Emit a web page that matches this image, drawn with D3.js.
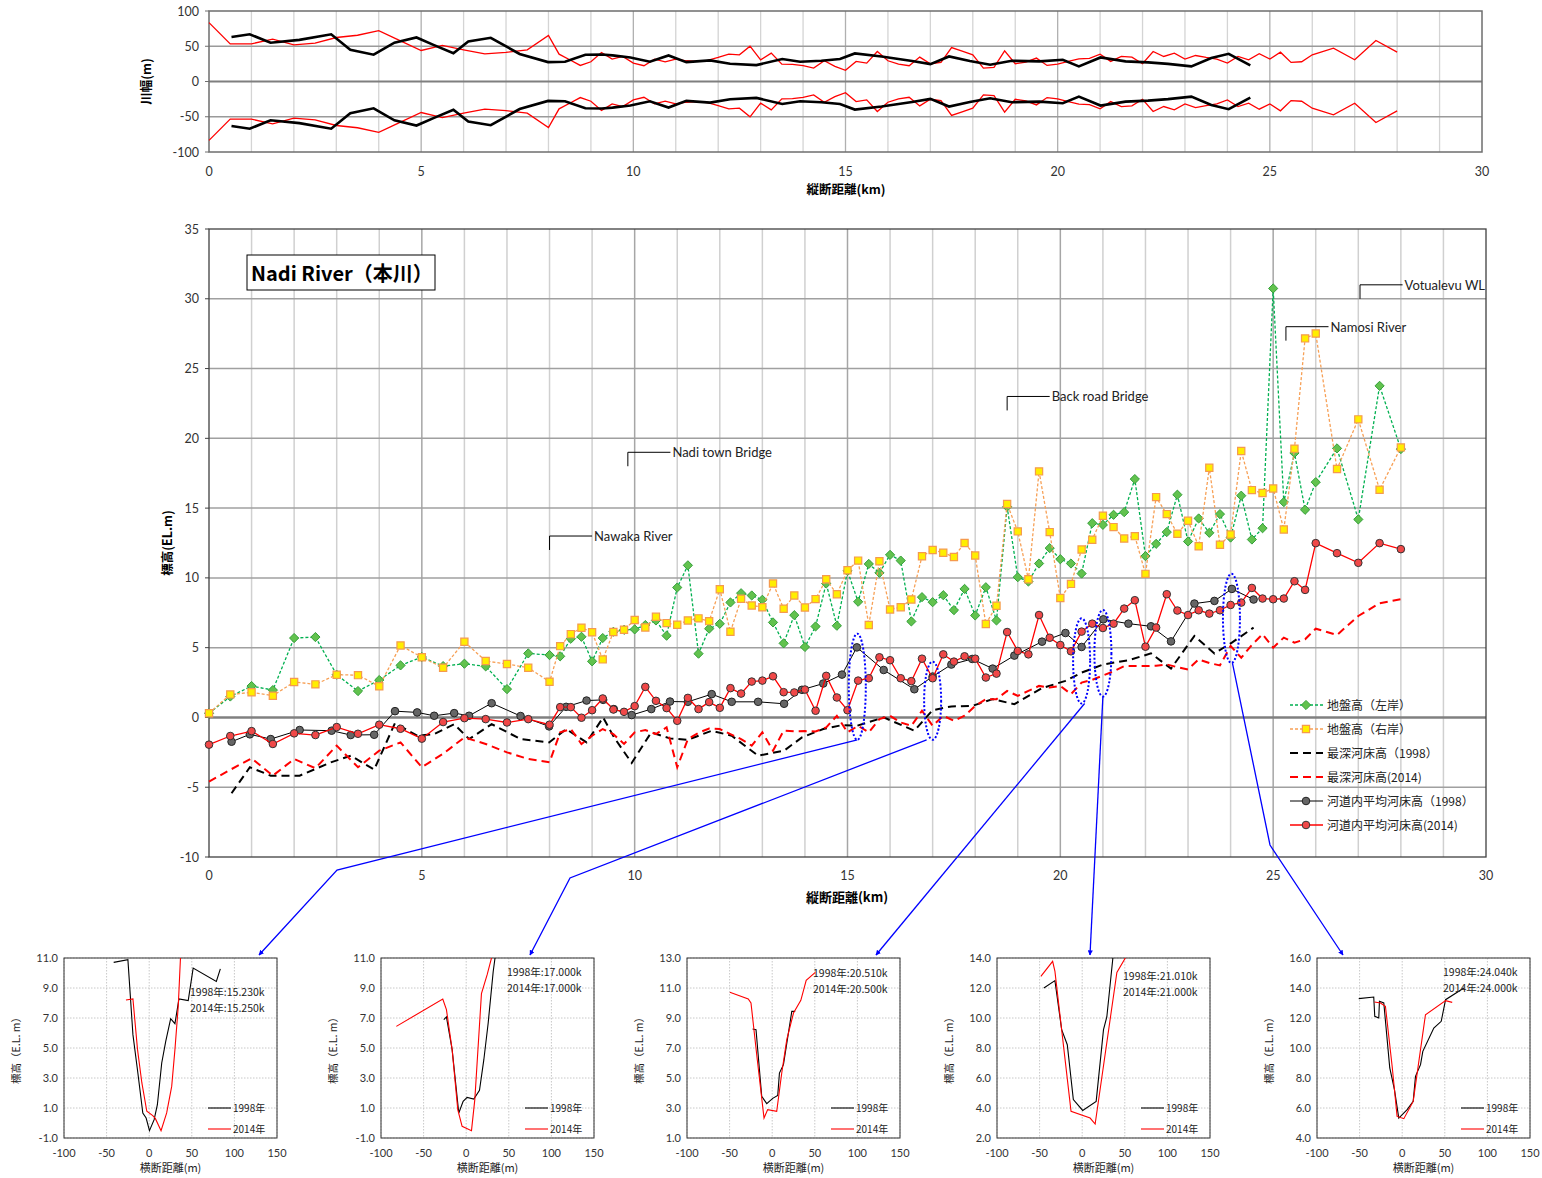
<!DOCTYPE html>
<html><head><meta charset="utf-8">
<script src="https://cdn.jsdelivr.net/npm/d3@7"></script>
<style>body{margin:0;background:#fff}svg{display:block}</style>
</head><body>
<svg id="c" width="1542" height="1178"></svg>
<script>
// ---------------- data ----------------
// 2014 survey stations (km) and the values measured at them
const km2014 = [0,0.5,1,1.5,2,2.5,3,3.5,4,4.5,5,5.5,6,6.5,7,7.5,8,
  8.25,8.5,8.75,9,9.25,9.5,9.75,10,10.25,10.5,10.75,11,11.25,11.5,11.75,12,12.25,12.5,12.75,13,
  13.25,13.5,13.75,14,14.25,14.5,14.75,15,15.25,15.5,15.75,16,16.25,16.5,16.75,17,17.25,17.5,17.75,18,
  18.25,18.5,18.75,19,19.25,19.5,19.75,20,20.25,20.5,20.75,21,21.25,21.5,21.75,22,22.25,22.5,22.75,23,
  23.25,23.5,23.75,24,24.25,24.5,24.75,25,25.25,25.5,25.75,26,26.5,27,27.5,28];
const groundLeft = [0.3,1.5,2.25,1.96,5.69,5.76,3.06,1.89,2.68,3.73,4.33,3.68,3.85,3.66,2.03,4.59,4.47,
  4.38,5.64,5.78,4.02,5.69,6.14,6.28,6.31,6.62,6.95,5.86,9.31,10.9,4.57,6.36,6.71,8.24,8.9,8.74,8.43,
  6.81,5.31,7.33,5.05,6.52,9.6,6.57,10.5,8.29,11.0,10.36,11.65,11.24,6.88,8.62,8.26,8.76,7.69,9.21,7.31,
  9.33,6.95,15.1,10.05,9.74,11.03,12.13,11.34,11.03,10.31,13.92,13.8,14.52,14.71,17.08,11.56,12.44,13.28,15.96,12.61,
  14.26,13.23,14.57,12.89,15.89,12.75,13.56,30.74,15.43,18.95,14.88,16.86,19.28,14.19,23.76,19.23];
const groundRight = [0.3,1.65,1.8,1.56,2.54,2.37,3.06,3.03,2.23,5.16,4.31,3.56,5.42,4.04,3.83,3.56,2.56,
  5.11,5.97,6.43,6.1,4.16,6.12,6.28,6.98,6.45,7.21,6.76,6.64,6.95,7.1,6.9,9.19,6.14,8.5,8.02,7.9,
  9.6,7.79,8.74,7.88,8.48,9.9,8.83,10.55,11.24,6.62,11.19,7.74,7.9,8.45,11.55,12.0,11.8,11.5,12.5,11.6,
  6.7,8.0,15.29,13.33,9.9,17.63,13.28,8.56,9.57,12.03,12.73,14.45,13.64,12.82,12.99,10.29,15.79,14.57,13.16,14.09,
  12.27,17.89,12.37,13.11,19.09,16.29,16.08,16.41,13.47,19.26,27.16,27.51,17.8,21.36,16.32,19.35];
const deepest2014 = [-4.6,-3.75,-2.93,-4.17,-2.98,-3.64,-2.02,-3.57,-2.38,-1.79,-3.57,-2.6,-1.43,-1.9,-2.5,-2.98,-3.21,
  -1.07,-0.83,-1.9,-1.31,-0.83,-1.2,-1.9,-1.07,-0.9,-1.19,-0.71,-3.57,-1.55,-1.1,-0.79,-0.83,-1.2,-1.55,-2.02,-1.07,
  -2.38,-0.95,-1.0,-0.98,-1.0,-0.71,0.12,-1.07,-0.6,-1.07,-0.12,0.12,-0.36,-0.6,0.48,-0.6,0.12,-0.24,0.12,0.83,
  1.31,1.31,1.9,1.55,1.9,2.26,2.14,2.26,1.67,2.5,2.7,3.0,3.3,3.68,3.68,3.68,3.7,3.8,3.6,3.44,
  4.16,3.9,3.73,5.12,4.28,5.2,5.96,5.0,5.72,5.36,5.6,6.36,5.91,7.27,8.18,8.47];
const meanBed2014 = [-1.95,-1.33,-0.98,-1.9,-1.14,-1.26,-0.69,-1.17,-0.52,-0.81,-1.52,-0.33,-0.05,-0.12,-0.36,-0.12,-0.52,
  0.74,0.74,-0.02,0.52,1.36,0.57,0.4,0.81,2.19,1.19,0.67,-0.24,1.4,0.6,1.1,0.69,2.1,1.71,2.57,2.64,
  2.95,1.81,1.79,2.0,0.48,2.98,1.43,0.52,2.64,2.81,4.31,4.1,2.81,2.6,4.21,2.81,4.52,4.0,4.38,4.21,
  2.86,3.14,6.12,4.76,4.52,7.34,5.71,5.19,4.74,6.15,6.72,6.41,6.72,7.8,8.4,5.07,6.44,8.83,7.66,7.34,
  7.68,7.44,7.68,8.06,8.23,9.28,8.52,8.47,8.52,9.76,9.14,12.49,11.77,11.08,12.49,12.06];
const halfWidth2014 = [83.5,53.4,53.4,60,52,54.4,62.4,65.6,72.2,58.1,44,51.1,44.9,39.3,41.2,44.9,65.2,
  38.8,30.8,22.8,28,41.2,31.8,35.5,26.1,22.4,31.8,28,31.8,29.4,28.5,30,34.1,38.8,37.9,50.1,30.8,
  40.2,24.7,24.2,22.4,19.1,29.4,21.4,15.8,28.5,26.1,42.6,29.4,24.7,22.4,34.6,25.2,27.1,48.2,43,37.9,
  19.1,20,43.5,25.2,27.5,33.2,22.8,24.7,28.5,32.2,32.7,38.8,28.5,35.5,34.6,25.2,42.6,35.5,40.2,31.8,
  36.9,34.1,31.8,26.1,35.5,30.8,39.3,31.8,41.6,27.1,28,37.9,47.3,30.8,58.1,41.6];

// 1998 survey stations (km) and the values measured at them
const km1998 = [0.53,0.96,1.45,2.13,2.88,3.33,3.88,4.37,4.89,5.29,5.76,6.11,6.64,7.32,7.99,8.39,8.87,9.26,9.51,9.93,
  10.39,10.83,11.25,11.81,12.28,12.9,13.51,13.93,14.43,14.87,15.22,15.85,16.57,17.0,17.44,17.93,18.41,18.92,19.57,20.12,
  20.5,21.01,21.6,22.13,22.6,23.15,23.62,24.03,24.54];
const meanBed1998 = [-1.74,-1.21,-1.55,-0.9,-0.95,-1.26,-1.24,0.45,0.36,0.12,0.31,0.12,1.02,0.1,-0.64,0.76,1.21,1.26,0.6,0.17,
  0.6,1.14,1.12,1.67,1.12,1.12,0.98,1.98,2.43,3.07,5.02,3.4,2.02,2.93,3.79,4.19,3.5,4.43,5.43,6.05,
  5.05,7.03,6.72,6.53,5.45,8.16,8.35,9.21,8.45];
const deepest1998 = [-5.43,-3.57,-4.17,-4.17,-3.2,-2.74,-3.74,-0.4,-1.31,-1.19,-0.48,-1.55,-0.48,-1.55,-1.79,-0.83,-1.79,0.0,-1.4,-3.26,
  -1.07,-1.5,-1.6,-0.95,-1.31,-2.74,-2.38,-1.43,-0.83,-0.55,-0.6,0.0,-0.95,0.52,0.79,0.83,1.31,0.95,2.1,2.62,
  3.21,3.8,4.1,4.59,3.5,5.84,4.59,5.36,6.44];
const halfWidth1998 = [63,67,55,59,67,45,38,55,62.5,52,40,56.7,62,39,27.5,28,38,38.4,37,34,
  28,37,27.5,29.9,25.2,23.3,31.8,28,29.5,32,39.8,35.5,29,24.7,35.5,29,23.8,29.4,28.5,30.8,
  21.4,34.1,28.5,27.1,25,21.4,33.2,39.3,22.8];

// landmarks along the river
const landmarkKm = [8.0, 9.84, 18.75, 25.3, 27.04];
const landmarkLevel = [12, 18, 22, 27, 30];
const landmarkNames = ['Nawaka River', 'Nadi town Bridge', 'Back road Bridge', 'Namosi River', 'Votualevu WL'];

// cross sections: [transverse distance (m), elevation (EL.m)]
const sec15_1998 = [[-41.7,10.71],[-25,10.89],[-19.1,5.89],[-13.3,3.33],[-7.5,0.67],[-3.6,0.33],[0.3,-0.51],[5.8,0.22],[9.6,1.22],[14.7,4.0],[19.4,5.44],[25.2,6.96],[30.2,6.62],[34.9,8.27],[45.8,8.16],[51.6,10.33],[78.8,9.44],[83.5,10.27]];
const sec15_2014 = [[-27.3,8.2],[-19.1,8.27],[-13.7,4.89],[-8.6,2.67],[-2.8,0.78],[4.2,0.49],[7.3,0.29],[13.9,-0.51],[20.5,0.67],[26.4,2.44],[30.2,4.89],[34.1,7.78],[37.5,12.0]];
const sec17_1998 = [[-26.3,6.89],[-23.2,7.07],[-16.5,4.89],[-8.7,0.67],[-3.6,1.44],[1.1,1.71],[8.9,1.6],[15.6,2.18],[20.7,4.22],[25.8,6.67],[31.7,10.1],[35,11.5]];
const sec17_2014 = [[-82,6.44],[-27.5,8.27],[-23.2,7.56],[-16.5,4.89],[-9.9,0.89],[-4.8,-0.22],[6.2,-0.51],[10.1,1.56],[17.9,8.62],[24.6,9.89],[32,11.5]];
const sec205_1998 = [[-23,8.27],[-19,8.22],[-12.3,3.78],[-6.4,3.29],[0.6,3.64],[6.5,3.84],[8.5,5.33],[13.2,5.89],[23,9.44],[27,9.44]];
const sec205_2014 = [[-49.7,10.71],[-28.1,10.27],[-24.9,10.0],[-17.5,6.22],[-9.6,2.33],[-5.3,2.89],[5.3,2.78],[11.2,5.33],[17.1,7.56],[25,9.33],[33.6,10.18],[39.9,11.51],[50.6,12.04]];
const sec21_1998 = [[-45,12.0],[-32,12.49],[-24.1,9.22],[-17.5,8.22],[-10.4,4.56],[0.6,3.84],[16.4,4.44],[25,9.22],[28.9,10.07],[36,14.0],[37,14.5]];
const sec21_2014 = [[-48.5,12.78],[-34.7,13.78],[-32,13.11],[-13.1,3.78],[9.3,3.33],[15.2,2.93],[40.7,13.04],[50.6,14.0],[52,14.2]];
const sec24_1998 = [[-51,13.29],[-33.4,13.4],[-32.2,12.11],[-27.5,12.0],[-26.7,13.11],[-21.6,13.0],[-14.6,8.67],[-9.1,7.22],[-4.0,5.33],[5.8,5.89],[12.9,6.44],[15.6,8.11],[21.5,8.89],[24.2,9.78],[37.1,11.33],[45.8,11.78],[50.9,13.22],[72.4,14.0]];
const sec24_2014 = [[-32.6,13.07],[-25.5,13.0],[-19.7,12.78],[-11.8,8.78],[-6.0,5.44],[1.9,5.29],[12.9,6.44],[27.3,12.22],[50.9,13.16],[58.7,13.04]];

const secKm = [15.23, 17.0, 20.5, 21.0, 24.02];
const secLow = [-1, -1, 1, 2, 4];
const secLabels = [['1998年:15.230k','2014年:15.250k'],['1998年:17.000k','2014年:17.000k'],['1998年:20.510k','2014年:20.500k'],['1998年:21.010k','2014年:21.000k'],['1998年:24.040k','2014年:24.000k']];
// elevation band circled on the longitudinal profile for each section
const secBandTop = [6.0, 4.0, 7.1, 7.7, 10.3];
const secBandBottom = [-1.6, -1.6, 1.0, 1.5, 3.9];

// ---------------- drawing ----------------
const svg = d3.select('#c');
const LAT = 'Lato, "Open Sans", sans-serif';
const JP = '"Noto Sans CJK JP", sans-serif';
svg.append('rect').attr('width',1542).attr('height',1178).attr('fill','#fff');

const zip = (xs, ys) => xs.map((x,i)=>[x, ys[i]]);

// ---------- river width chart ----------
const xT = d3.scaleLinear().domain([0,30]).range([209,1482]);
const yT = d3.scaleLinear().domain([-100,100]).range([152,11]);
const gT = svg.append('g');
d3.range(1,30).forEach(k => gT.append('line')
  .attr('x1',xT(k)).attr('x2',xT(k)).attr('y1',yT(100)).attr('y2',yT(-100))
  .attr('stroke', k%5===0 ? '#b0b0b0' : '#d4d4d4').attr('stroke-width',1.3));
[50,-50].forEach(v => gT.append('line').attr('x1',xT(0)).attr('x2',xT(30)).attr('y1',yT(v)).attr('y2',yT(v))
  .attr('stroke','#9a9a9a').attr('stroke-width',1.3));
gT.append('line').attr('x1',xT(0)).attr('x2',xT(30)).attr('y1',yT(0)).attr('y2',yT(0))
  .attr('stroke','#7f7f7f').attr('stroke-width',2.2);
gT.append('rect').attr('x',xT(0)).attr('y',yT(100)).attr('width',xT(30)-xT(0)).attr('height',yT(-100)-yT(100))
  .attr('fill','none').attr('stroke','#6e6e6e').attr('stroke-width',1.5);
[100,50,0,-50,-100].forEach(v => {
  gT.append('line').attr('x1',xT(0)-4).attr('x2',xT(0)).attr('y1',yT(v)).attr('y2',yT(v)).attr('stroke','#6e6e6e');
  gT.append('text').attr('x',xT(0)-10).attr('y',yT(v)+4.5).attr('text-anchor','end')
    .attr('font-family',LAT).attr('font-size',12.5).attr('fill','#333').text(v);
});
d3.range(0,31,5).forEach(k => gT.append('text').attr('x',xT(k)).attr('y',176).attr('text-anchor','middle')
  .attr('font-family',LAT).attr('font-size',12.5).attr('fill','#333').text(k));
gT.append('text').attr('x',846).attr('y',194).attr('text-anchor','middle').attr('font-family',JP)
  .attr('font-weight',700).attr('font-size',12.5).text('縦断距離(km)');
gT.append('text').attr('transform',`translate(151,${yT(0)}) rotate(-90)`).attr('text-anchor','middle')
  .attr('font-family',JP).attr('font-weight',700).attr('font-size',12.5).text('川幅(m)');

const lineT = d3.line().x(d=>xT(d[0])).y(d=>yT(d[1]));
[1,-1].forEach(s => gT.append('path').attr('d', lineT(zip(km2014, halfWidth2014.map(v=>s*v))))
  .attr('fill','none').attr('stroke','#ff0000').attr('stroke-width',1.3));
[1,-1].forEach(s => gT.append('path').attr('d', lineT(zip(km1998, halfWidth1998.map(v=>s*v))))
  .attr('fill','none').attr('stroke','#000').attr('stroke-width',2.6));

// ---------- longitudinal profile ----------
const x = d3.scaleLinear().domain([0,30]).range([209,1486]);
const y = d3.scaleLinear().domain([-10,35]).range([857,229]);
const g = svg.append('g');
d3.range(1,30).forEach(k => g.append('line')
  .attr('x1',x(k)).attr('x2',x(k)).attr('y1',y(35)).attr('y2',y(-10))
  .attr('stroke', k%5===0 ? '#a6a6a6' : '#d0d0d0').attr('stroke-width',1.5));
d3.range(-5,35,5).filter(v=>v!==0).forEach(v => g.append('line')
  .attr('x1',x(0)).attr('x2',x(30)).attr('y1',y(v)).attr('y2',y(v))
  .attr('stroke','#a0a0a0').attr('stroke-width',1.5));
g.append('line').attr('x1',x(0)).attr('x2',x(30)).attr('y1',y(0)).attr('y2',y(0))
  .attr('stroke','#808080').attr('stroke-width',2.6);
g.append('rect').attr('x',x(0)).attr('y',y(35)).attr('width',x(30)-x(0)).attr('height',y(-10)-y(35))
  .attr('fill','none').attr('stroke','#404040').attr('stroke-width',1.3);
d3.range(-10,36,5).forEach(v => {
  g.append('line').attr('x1',x(0)-4).attr('x2',x(0)).attr('y1',y(v)).attr('y2',y(v)).attr('stroke','#404040');
  g.append('text').attr('x',x(0)-10).attr('y',y(v)+4.5).attr('text-anchor','end')
    .attr('font-family',LAT).attr('font-size',12.5).attr('fill','#333').text(v);
});
d3.range(0,31,5).forEach(k => g.append('text').attr('x',x(k)).attr('y',880).attr('text-anchor','middle')
  .attr('font-family',LAT).attr('font-size',12.5).attr('fill','#333').text(k));
g.append('text').attr('x',847).attr('y',902).attr('text-anchor','middle').attr('font-family',JP)
  .attr('font-weight',700).attr('font-size',13).text('縦断距離(km)');
g.append('text').attr('transform',`translate(172,${(y(35)+y(-10))/2}) rotate(-90)`).attr('text-anchor','middle')
  .attr('font-family',JP).attr('font-weight',700).attr('font-size',12.5).text('標高(EL.m)');

// title box
g.append('rect').attr('x',247).attr('y',255).attr('width',188).attr('height',35)
  .attr('fill','#fff').attr('stroke','#000').attr('stroke-width',1);
g.append('text').attr('x',251).attr('y',281).attr('font-family',JP).attr('font-weight',700)
  .attr('font-size',20).text('Nadi River（本川）');

// landmarks
landmarkKm.forEach((k,i) => {
  const lv = landmarkLevel[i];
  g.append('path').attr('d', `M${x(k)},${y(lv)}V${y(lv+1)}H${x(k+1)}`)
    .attr('fill','none').attr('stroke','#000').attr('stroke-width',1);
  g.append('text').attr('x',x(k+1)+2).attr('y',y(lv+1)+5).attr('font-family',LAT)
    .attr('font-size',13).attr('fill','#222').text(landmarkNames[i]);
});

const line = d3.line().x(d=>x(d[0])).y(d=>y(d[1]));
const diamond = 'M0,-4.6L4.6,0L0,4.6L-4.6,0Z';
const square = d3.symbol(d3.symbolSquare, 52)();

// 地盤高（左岸）
const pL = zip(km2014, groundLeft);
g.append('path').attr('d', line(pL)).attr('fill','none').attr('stroke','#00b050')
  .attr('stroke-width',1.3).attr('stroke-dasharray','3,2');
g.selectAll('.dl').data(pL).join('path').attr('d',diamond)
  .attr('transform',d=>`translate(${x(d[0])},${y(d[1])})`)
  .attr('fill','#62c24e').attr('stroke','#34a03a').attr('stroke-width',1);
// 地盤高（右岸）
const pR = zip(km2014, groundRight);
g.append('path').attr('d', line(pR)).attr('fill','none').attr('stroke','#f7a056')
  .attr('stroke-width',1.3).attr('stroke-dasharray','3,2');
g.selectAll('.sr').data(pR).join('path').attr('d',square)
  .attr('transform',d=>`translate(${x(d[0])},${y(d[1])})`)
  .attr('fill','#ffee00').attr('stroke','#f59a4e').attr('stroke-width',1.2);
// 最深河床高
g.append('path').attr('d', line(zip(km1998, deepest1998))).attr('fill','none').attr('stroke','#000')
  .attr('stroke-width',2).attr('stroke-dasharray','8,5');
g.append('path').attr('d', line(zip(km2014, deepest2014))).attr('fill','none').attr('stroke','#ff0000')
  .attr('stroke-width',2).attr('stroke-dasharray','8,5');
// 河道内平均河床高
const m98 = zip(km1998, meanBed1998);
g.append('path').attr('d', line(m98)).attr('fill','none').attr('stroke','#000').attr('stroke-width',1);
g.selectAll('.c98').data(m98).join('circle').attr('cx',d=>x(d[0])).attr('cy',d=>y(d[1])).attr('r',3.8)
  .attr('fill','#666').attr('stroke','#222').attr('stroke-width',1);
const m14 = zip(km2014, meanBed2014);
g.append('path').attr('d', line(m14)).attr('fill','none').attr('stroke','#ff0000').attr('stroke-width',1.3);
g.selectAll('.c14').data(m14).join('circle').attr('cx',d=>x(d[0])).attr('cy',d=>y(d[1])).attr('r',3.8)
  .attr('fill','#f04848').attr('stroke','#333').attr('stroke-width',1);

// legend
const legendItems = [
  {t:'地盤高（左岸）', stroke:'#00b050', dash:'3,2', w:1.3, mk:'d'},
  {t:'地盤高（右岸）', stroke:'#f7a056', dash:'3,2', w:1.3, mk:'s'},
  {t:'最深河床高（1998）', stroke:'#000', dash:'8,5', w:2},
  {t:'最深河床高(2014)', stroke:'#ff0000', dash:'8,5', w:2},
  {t:'河道内平均河床高（1998）', stroke:'#000', w:1, mk:'c98'},
  {t:'河道内平均河床高(2014)', stroke:'#ff0000', w:1.3, mk:'c14'}
];
legendItems.forEach((it,i) => {
  const ly = 705 + i*24;
  g.append('line').attr('x1',1290).attr('x2',1323).attr('y1',ly).attr('y2',ly)
    .attr('stroke',it.stroke).attr('stroke-width',it.w).attr('stroke-dasharray',it.dash||null);
  if (it.mk==='d') g.append('path').attr('d',diamond).attr('transform',`translate(1306,${ly})`)
    .attr('fill','#62c24e').attr('stroke','#34a03a');
  if (it.mk==='s') g.append('path').attr('d',square).attr('transform',`translate(1306,${ly})`)
    .attr('fill','#ffee00').attr('stroke','#f59a4e').attr('stroke-width',1.2);
  if (it.mk==='c98') g.append('circle').attr('cx',1306).attr('cy',ly).attr('r',3.8).attr('fill','#666').attr('stroke','#222');
  if (it.mk==='c14') g.append('circle').attr('cx',1306).attr('cy',ly).attr('r',3.8).attr('fill','#f04848').attr('stroke','#333');
  g.append('text').attr('x',1327).attr('y',ly+4.5).attr('font-family',JP).attr('font-size',12)
    .attr('fill','#222').text(it.t);
});

// ---------- cross sections ----------
const panelLeft = [64, 381, 687, 997, 1317];
const panelW = 213, panelTop = 958, panelBottom = 1138;
const labelTop = [992, 972, 973, 976, 972];
const sections = [[sec15_1998,sec15_2014],[sec17_1998,sec17_2014],[sec205_1998,sec205_2014],[sec21_1998,sec21_2014],[sec24_1998,sec24_2014]];
const defs = svg.append('defs');
sections.forEach((pair,i) => {
  const L = panelLeft[i];
  const px = d3.scaleLinear().domain([-100,150]).range([L, L+panelW]);
  const py = d3.scaleLinear().domain([secLow[i], secLow[i]+12]).range([panelBottom, panelTop]);
  const pg = svg.append('g');
  const ticksY = d3.range(secLow[i], secLow[i]+12.01, 2);
  ticksY.forEach(v => {
    pg.append('line').attr('x1',L).attr('x2',L+panelW).attr('y1',py(v)).attr('y2',py(v))
      .attr('stroke','#c8c8c8').attr('stroke-dasharray','1.5,1.5');
    pg.append('text').attr('x',L-6).attr('y',py(v)+4).attr('text-anchor','end')
      .attr('font-family',LAT).attr('font-size',11).attr('fill','#333').text(v.toFixed(1));
  });
  d3.range(-100,151,50).forEach(v => {
    pg.append('line').attr('x1',px(v)).attr('x2',px(v)).attr('y1',panelTop).attr('y2',panelBottom)
      .attr('stroke','#c8c8c8').attr('stroke-dasharray','1.5,1.5');
    pg.append('text').attr('x',px(v)).attr('y',panelBottom+19).attr('text-anchor','middle')
      .attr('font-family',LAT).attr('font-size',11).attr('fill','#333').text(v);
  });
  pg.append('rect').attr('x',L).attr('y',panelTop).attr('width',panelW).attr('height',panelBottom-panelTop)
    .attr('fill','none').attr('stroke','#333').attr('stroke-width',1);
  defs.append('clipPath').attr('id','clip'+i).append('rect')
    .attr('x',L).attr('y',panelTop).attr('width',panelW).attr('height',panelBottom-panelTop);
  const sl = d3.line().x(d=>px(d[0])).y(d=>py(d[1]));
  const cg = pg.append('g').attr('clip-path',`url(#clip${i})`);
  cg.append('path').attr('d', sl(pair[0])).attr('fill','none').attr('stroke','#000').attr('stroke-width',1.1);
  cg.append('path').attr('d', sl(pair[1])).attr('fill','none').attr('stroke','#ff0000').attr('stroke-width',1.1);
  secLabels[i].forEach((t,j) => pg.append('text').attr('x',L+126).attr('y',labelTop[i]+4+j*15.5)
    .attr('font-family',JP).attr('font-size',10.5).attr('fill','#222').text(t));
  [['1998年','#000',1108],['2014年','#ff0000',1129]].forEach(([t,c,ly]) => {
    pg.append('line').attr('x1',L+144).attr('x2',L+167).attr('y1',ly).attr('y2',ly).attr('stroke',c).attr('stroke-width',1.1);
    pg.append('text').attr('x',L+169).attr('y',ly+4).attr('font-family',JP).attr('font-size',10)
      .attr('fill','#222').text(t);
  });
  pg.append('text').attr('x',L+panelW*0.5).attr('y',1172).attr('text-anchor','middle')
    .attr('font-family',JP).attr('font-size',11).attr('fill','#222').text('横断距離(m)');
  pg.append('text').attr('transform',`translate(${L-44},${(panelTop+panelBottom)/2}) rotate(-90)`)
    .attr('text-anchor','middle').attr('font-family',JP).attr('font-size',10.5).attr('fill','#222').text('標高（E.L. m）');
});

// ---------- section markers and leaders ----------
defs.append('marker').attr('id','arr').attr('viewBox','0 0 10 10').attr('refX',9).attr('refY',5)
  .attr('markerWidth',4).attr('markerHeight',4).attr('orient','auto-start-reverse')
  .append('path').attr('d','M0,0L10,5L0,10Z').attr('fill','#0000ff');
secKm.forEach((k,i) => {
  const cy = (y(secBandTop[i]) + y(secBandBottom[i]))/2;
  g.append('ellipse').attr('cx',x(k)).attr('cy',cy).attr('rx',8.5).attr('ry',(y(secBandBottom[i])-y(secBandTop[i]))/2)
    .attr('fill','none').attr('stroke','#0000ff').attr('stroke-width',2).attr('stroke-dasharray','2,2');
});
// leader routes: start at the bottom of each circled band, optional bend, end above each section
const bends = [[337,870],[570,878],null,null,[1270,845]];
const tipX = [259, 530, 876, 1090, 1343];
const startDx = [0, -6, 3, 0, 1];
secKm.forEach((k,i) => {
  const sx = x(k)+startDx[i], sy = y(secBandBottom[i]);
  const pts = [[sx,sy]];
  if (bends[i]) pts.push(bends[i]);
  pts.push([tipX[i], panelTop-3]);
  svg.append('path').attr('d', d3.line()(pts)).attr('fill','none').attr('stroke','#0000ff')
    .attr('stroke-width',1.3).attr('marker-end','url(#arr)');
});
</script>
</body></html>
